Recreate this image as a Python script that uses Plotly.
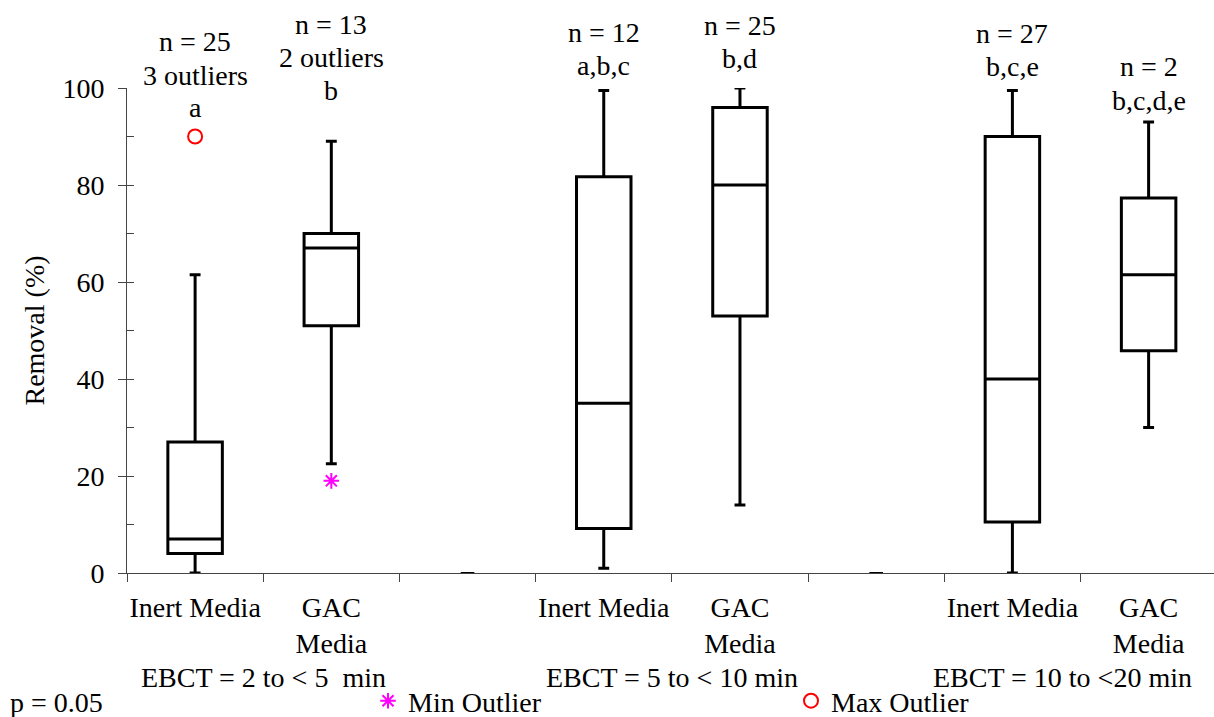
import plotly.graph_objects as go

# ---------------- data ----------------
ebct_groups = ["EBCT = 2 to < 5\u00a0\u00a0min", "EBCT = 5 to < 10 min", "EBCT = 10 to <20 min"]
media_labels = ["Inert Media", "GAC<br>Media"] * 3
slot_index = [0, 1, 3, 4, 6, 7]          # category slot of each box (slots 2 and 5 are empty)
blank_slots = [2, 5]

lower_whisker = [0, 22.5, 1, 14, 0, 30]
q1 = [4, 51, 9.2, 53, 10.5, 45.8]
median = [7, 67, 35, 80, 40, 61.5]
q3 = [27, 70, 81.7, 96, 90, 77.3]
upper_whisker = [61.5, 89, 99.5, 100, 99.5, 93]

n_values = [25, 13, 12, 25, 27, 2]
outlier_notes = ["3 outliers", "2 outliers", "", "", "", ""]
letters = ["a", "b", "a,b,c", "b,d", "b,c,e", "b,c,d,e"]

max_outlier_slot = [0]
max_outlier_value = [90]
min_outlier_slot = [1]
min_outlier_value = [19]

blank_values = [0, 0]

# ---------------- layout constants ----------------
W, H = 1214, 717
ML, MR, MT, MB = 127, 0, 88, 144
PLOT_W = W - ML - MR
PLOT_H = H - MT - MB
label_top_px = [42, 24, 33, 25, 34, 67]   # pixel centre of first label line above each box
line_gap_px = 33
group_label_x = [0.5, 3.5, 6.37]

FONT = "Liberation Serif, Times New Roman, serif"
FS = 28


def paper_y(px):
    return (H - MB - px) / PLOT_H


fig = go.Figure()

fig.add_trace(go.Box(
    x=slot_index, q1=q1, median=median, q3=q3,
    lowerfence=lower_whisker, upperfence=upper_whisker,
    width=0.4, whiskerwidth=0.2, boxpoints=False,
    line=dict(color="black", width=3), fillcolor="white",
    showlegend=False, xaxis="x", yaxis="y",
))

fig.add_trace(go.Box(
    x=blank_slots, q1=blank_values, median=blank_values, q3=blank_values,
    lowerfence=blank_values, upperfence=blank_values,
    width=0.1, whiskerwidth=0.2, boxpoints=False,
    line=dict(color="black", width=2), fillcolor="white",
    showlegend=False, xaxis="x2", yaxis="y",
))

fig.add_trace(go.Scatter(
    x=min_outlier_slot, y=min_outlier_value, mode="markers", name="Min Outlier",
    marker=dict(symbol="asterisk-open", size=13, color="magenta",
                line=dict(color="magenta", width=2)),
    xaxis="x", yaxis="y2", cliponaxis=False,
))
fig.add_trace(go.Scatter(
    x=max_outlier_slot, y=max_outlier_value, mode="markers", name="Max Outlier",
    marker=dict(symbol="circle-open", size=14, color="red",
                line=dict(color="red", width=2)),
    xaxis="x", yaxis="y", cliponaxis=False,
))

# labels above boxes
for i, s in enumerate(slot_index):
    lines = ["n = %d" % n_values[i]]
    if outlier_notes[i]:
        lines.append(outlier_notes[i])
    lines.append(letters[i])
    for j, txt in enumerate(lines):
        fig.add_annotation(
            x=s, y=paper_y(label_top_px[i] + j * line_gap_px), xref="x", yref="paper",
            text=txt, showarrow=False, yanchor="middle", xanchor="center",
            font=dict(family=FONT, size=FS, color="black"),
        )

for gx, gtxt in zip(group_label_x, ebct_groups):
    fig.add_annotation(
        x=gx, y=paper_y(677), xref="x", yref="paper", text=gtxt, showarrow=False,
        xanchor="center", yanchor="middle",
        font=dict(family=FONT, size=FS, color="black"),
    )

fig.add_annotation(
    x=(8 - ML) / PLOT_W, y=paper_y(702), xref="paper", yref="paper", text="p = 0.05",
    showarrow=False, xanchor="left", yanchor="middle",
    font=dict(family=FONT, size=FS, color="black"),
)

xr = [-0.5, 7.48]
yr = [0, 100]
axis_col = "#444444"

fig.update_layout(
    width=W, height=H,
    margin=dict(l=ML, r=MR, t=MT, b=MB, autoexpand=False),
    paper_bgcolor="white", plot_bgcolor="white",
    font=dict(family=FONT, size=FS, color="black"),
    xaxis=dict(
        range=xr, tickmode="array", tickvals=slot_index, ticktext=media_labels,
        ticks="", showgrid=False, zeroline=False, showline=True,
        linecolor=axis_col, linewidth=1, ticklabelstandoff=9,
        tickfont=dict(family=FONT, size=FS, color="black"),
    ),
    xaxis2=dict(
        range=xr, overlaying="x", anchor="y", side="bottom",
        tickmode="array", tickvals=[-0.5 + k for k in range(9)],
        ticks="outside", ticklen=8, tickcolor=axis_col, tickwidth=1,
        showticklabels=False, showgrid=False, zeroline=False, showline=False,
    ),
    yaxis=dict(
        range=yr, tickmode="linear", tick0=0, dtick=20,
        ticks="outside", ticklen=8, tickcolor=axis_col, tickwidth=1,
        showgrid=False, zeroline=False, showline=True, linecolor=axis_col, linewidth=1,
        ticklabelstandoff=8,
        tickfont=dict(family=FONT, size=FS, color="black"),
        title=dict(text="Removal (%)", standoff=9,
                   font=dict(family=FONT, size=FS, color="black")),
    ),
    yaxis2=dict(
        range=yr, overlaying="y", anchor="x", side="left",
        tickmode="linear", tick0=0, dtick=10,
        ticks="inside", ticklen=7, tickcolor=axis_col, tickwidth=1,
        showticklabels=False, showgrid=False, zeroline=False, showline=False,
    ),
    legend=dict(
        orientation="h", x=(368 - ML) / PLOT_W, y=paper_y(701),
        xanchor="left", yanchor="middle",
        entrywidth=378, entrywidthmode="pixels", bgcolor="rgba(0,0,0,0)",
        font=dict(family=FONT, size=FS, color="black"),
        itemclick=False,
    ),
)

fig.write_html("out.html")
